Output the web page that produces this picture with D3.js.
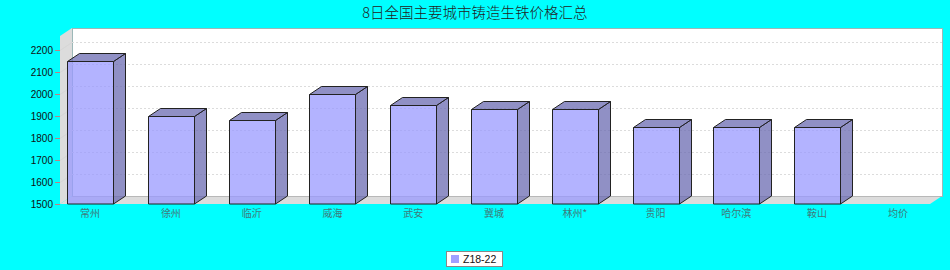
<!DOCTYPE html>
<html>
<head>
<meta charset="utf-8">
<script src="https://cdn.jsdelivr.net/npm/d3@7"></script>
<style>
  html, body { margin: 0; padding: 0; background: #00ffff; }
  svg { display: block; }
</style>
</head>
<body>
<svg id="chart" width="950" height="270"></svg>
<script>
const title = '8日全国主要城市铸造生铁价格汇总';
const seriesName = 'Z18-22';
const categories = ['常州', '徐州', '临沂', '威海', '武安', '冀城', '林州*', '贵阳', '哈尔滨', '鞍山', '均价'];
const prices = [2150, 1900, 1880, 2000, 1950, 1930, 1930, 1850, 1850, 1850, null];
const yTicks = [1500, 1600, 1700, 1800, 1900, 2000, 2100, 2200];

const W = 950, H = 270;
// front face of the 3D plot and depth offset
const plotL = 60, plotR = 930, plotT = 36, plotB = 204;
const dx = 12, dy = 8;

const svg = d3.select('#chart');
svg.append('rect').attr('width', W).attr('height', H).attr('fill', '#00ffff');

svg.append('text')
  .attr('x', W / 2).attr('y', 18)
  .attr('text-anchor', 'middle')
  .style('font-family', '"Noto Sans CJK SC", sans-serif')
  .style('font-size', '14.5px')
  .style('font-weight', 300)
  .attr('fill', '#222')
  .text(title);

const y = d3.scaleLinear().domain([1500, 2263.6]).range([plotB, plotT]);
const x = d3.scaleBand().domain(categories).range([plotL - 1, plotR - 1]).paddingInner(0.43).paddingOuter(0.1);

const poly = pts => pts.map(p => p.join(',')).join(' ');

// back wall
svg.append('rect')
  .attr('x', plotL + dx + 0.5).attr('y', plotT - dy + 0.5)
  .attr('width', plotR - plotL).attr('height', plotB - plotT)
  .attr('fill', '#fff').attr('stroke', '#9cb8b8').attr('stroke-width', 1);

// left wall and floor
svg.append('polygon')
  .attr('points', poly([[plotL, plotT], [plotL + dx, plotT - dy], [plotL + dx, plotB - dy], [plotL, plotB]]))
  .attr('fill', '#dcdcdc');
svg.append('polygon')
  .attr('points', poly([[plotL, plotB], [plotL + dx, plotB - dy], [plotR + dx, plotB - dy], [plotR, plotB]]))
  .attr('fill', '#dcdcdc');
svg.append('line')
  .attr('x1', plotL + dx).attr('x2', plotR + dx)
  .attr('y1', plotB - dy + 0.5).attr('y2', plotB - dy + 0.5)
  .attr('stroke', '#b8b8b8');

// gridlines on the back wall and left wall
const grid = svg.append('g');
yTicks.filter(t => t > 1500).forEach(t => {
  const yy = Math.round(y(t)) + 0.5;
  grid.append('line')
    .attr('x1', plotL + dx).attr('x2', plotR + dx)
    .attr('y1', yy - dy).attr('y2', yy - dy)
    .attr('stroke', '#dcdcdc').attr('stroke-dasharray', '2,2');
  grid.append('line')
    .attr('x1', plotL).attr('x2', plotL + dx)
    .attr('y1', yy).attr('y2', yy - dy)
    .attr('stroke', '#d2d2d2').attr('stroke-width', 0.7);
});

// y axis
const yAxis = svg.append('g');
yTicks.forEach(t => {
  const yy = Math.round(y(t)) + 0.5;
  yAxis.append('line')
    .attr('x1', plotL - 5).attr('x2', plotL)
    .attr('y1', yy).attr('y2', yy)
    .attr('stroke', '#c08080');
  yAxis.append('text')
    .attr('x', plotL - 7).attr('y', yy + 3.5)
    .attr('text-anchor', 'end')
    .style('font-family', '"Liberation Sans", sans-serif')
    .style('font-size', '10px')
    .attr('fill', '#111')
    .text(t);
});

// bars
const barFill = '#9999ff', barDark = '#6b6bb2', barAlpha = 0.75;
const bars = svg.append('g');
categories.forEach((c, i) => {
  const v = prices[i];
  if (v == null) return;
  const x0 = Math.round(x(c)) + 0.5;
  const w = Math.round(x.bandwidth());
  const y0 = Math.round(y(v)) + 0.5;
  const g = bars.append('g')
    .attr('stroke', '#222').attr('stroke-width', 1).attr('stroke-linejoin', 'round');
  g.append('polygon')
    .attr('points', poly([[x0 + w, y0], [x0 + w + dx, y0 - dy], [x0 + w + dx, plotB - dy], [x0 + w, plotB]]))
    .attr('fill', barDark).attr('fill-opacity', barAlpha);
  g.append('polygon')
    .attr('points', poly([[x0, y0], [x0 + dx, y0 - dy], [x0 + w + dx, y0 - dy], [x0 + w, y0]]))
    .attr('fill', barDark).attr('fill-opacity', barAlpha);
  g.append('rect')
    .attr('x', x0).attr('y', y0).attr('width', w).attr('height', plotB - y0)
    .attr('fill', barFill).attr('fill-opacity', barAlpha);
});

// category labels
categories.forEach(c => {
  svg.append('text')
    .attr('x', x(c) + x.bandwidth() / 2).attr('y', 217)
    .attr('text-anchor', 'middle')
    .style('font-family', '"Noto Sans CJK SC", sans-serif')
    .style('font-size', '10px')
    .attr('fill', '#3f7a7a')
    .text(c);
});

// legend
const lg = svg.append('g');
lg.append('rect')
  .attr('x', 446.5).attr('y', 251.5).attr('width', 56).attr('height', 15)
  .attr('fill', '#fff').attr('stroke', '#888');
lg.append('rect')
  .attr('x', 451).attr('y', 255).attr('width', 8).attr('height', 8)
  .attr('fill', '#a0a0ff');
lg.append('text')
  .attr('x', 463).attr('y', 263)
  .style('font-family', '"Liberation Sans", sans-serif')
  .style('font-size', '10.5px')
  .attr('fill', '#111')
  .text(seriesName);
</script>
</body>
</html>
